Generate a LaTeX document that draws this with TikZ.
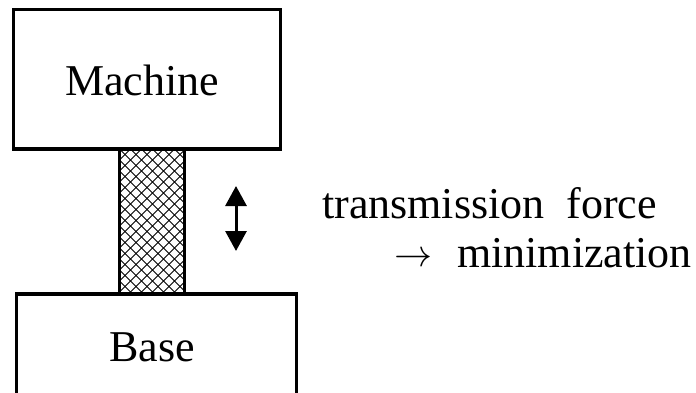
\documentclass[tikz,border=0pt]{standalone}
\usepackage{fontspec}
\setmainfont{Liberation Serif}
\usetikzlibrary{arrows.meta}
\begin{document}
\begin{tikzpicture}[x=1pt,y=-1pt,
  blockbox/.style={draw,line width=3pt,rectangle,inner sep=0pt},
  label/.style={font=\fontsize{44}{48}\selectfont,inner sep=0pt}]
\useasboundingbox (0,0) rectangle (696,393);
\clip (0,0) rectangle (696,393);
% machine, base and the elastic mount between them
\node[blockbox,minimum width=267pt,minimum height=139pt] (machine) at (147,79) {};
\node[blockbox,minimum width=280pt,minimum height=120pt] (base) at (156.5,354.5) {};
\coordinate (mtl) at (119.5,149);
\coordinate (mbr) at (184.5,294);
\begin{scope}
  \clip (mtl) rectangle (mbr);
  \foreach \k in {-20,...,30}{
    \draw[line width=0.9pt] (119.5+11*\k,149) -- ++(150,150);
    \draw[line width=0.9pt] (119.5+11*\k,149) -- ++(-150,150);
  }
\end{scope}
\draw[line width=3pt] (mtl) rectangle (mbr);
\draw[line width=3pt] (machine.south west) -- (machine.south east);
\draw[line width=3pt] (base.north west) -- (base.north east);
% labels
\node[label] (mtext) at (142,80) {Machine};
\node[label] (btext) at (152,347) {Base};
% vibration direction
\coordinate (atop) at (236,186);
\coordinate (abot) at (236,251);
\draw[line width=3pt,{Triangle[width=21pt,length=20pt]}-{Triangle[width=21pt,length=20pt]}] (atop) -- (abot);
\node[label,anchor=base west] (t1) at (322,218) {transmission\ \ force};
\node[label,anchor=base west] (t2) at (394,267)
  {\makebox[63pt][l]{\raisebox{1pt}{\resizebox{38pt}{!}{$\rightarrow$}}}minimization};
\end{tikzpicture}
\end{document}
